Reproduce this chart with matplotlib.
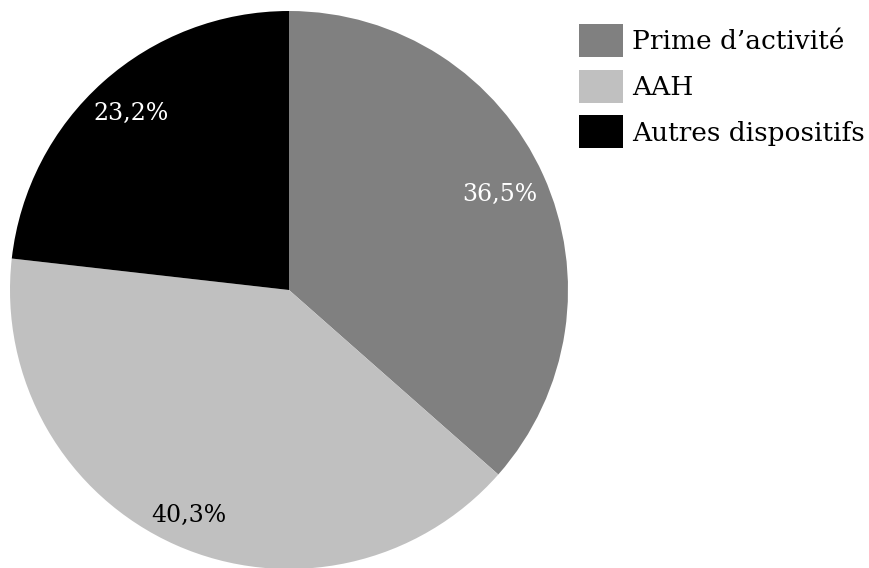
import numpy as np
import matplotlib.pyplot as plt

labels = ["Prime d\u2019activité", "AAH", "Autres dispositifs"]
values = [36.5, 40.3, 23.2]
colors = ["#808080", "#c0c0c0", "#000000"]
text_colors = ["white", "black", "white"]
label_dist = [0.83, 0.885, 0.85]

plt.rcParams["font.family"] = ["DejaVu Serif"]

fig = plt.figure(figsize=(8.69, 5.68), dpi=100)
ax = fig.add_axes([10 / 869, -1 / 568, 558 / 869, 558 / 568])

wedges, _ = ax.pie(values, colors=colors, startangle=90, counterclock=False,
                   radius=1, wedgeprops=dict(linewidth=0))
ax.set_xlim(-1, 1)
ax.set_ylim(-1, 1)
ax.set_aspect("equal")
ax.axis("off")

# percentage labels placed in each wedge
for w, v, c, d in zip(wedges, values, text_colors, label_dist):
    mid = np.deg2rad((w.theta1 + w.theta2) / 2)
    ax.text(d * np.cos(mid), d * np.sin(mid), f"{v:.1f}%".replace(".", ","),
            ha="center", va="center", color=c, fontsize=17)

leg = fig.legend(wedges, labels, loc="upper left",
                 bbox_to_anchor=(579 / 869, 1 - 24 / 568),
                 frameon=False, fontsize=19, handlelength=1.67, handleheight=1.55,
                 handletextpad=0.34, labelspacing=0.48, borderaxespad=0,
                 borderpad=0)

fig.savefig("out.png", dpi=100)
